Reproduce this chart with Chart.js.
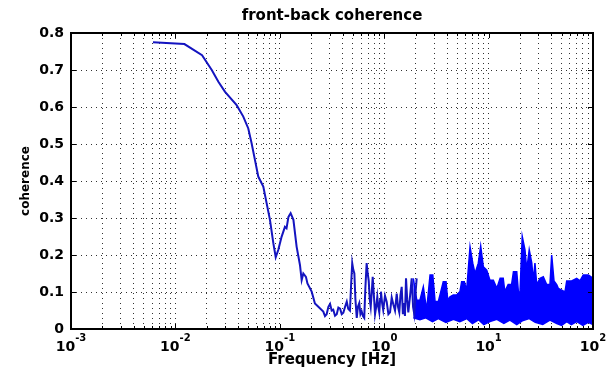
<!DOCTYPE html>
<html>
<head>
<meta charset="utf-8">
<title>front-back coherence</title>
<script src="https://cdn.jsdelivr.net/npm/chart.js@4.4.1/dist/chart.umd.min.js"></script>
<style>
  body { margin: 0; background: #fff; }
  #wrap { width: 611px; height: 370px; position: relative; }
</style>
</head>
<body>
<div id="wrap"><canvas id="coh"></canvas></div>
<script>
// frequency axis decades (10^n) and coherence ticks
const xDecades = [-3, -2, -1, 0, 1, 2];
const yTicks = [0, 0.1, 0.2, 0.3, 0.4, 0.5, 0.6, 0.7, 0.8];
const yTickLabels = ["0", "0.1", "0.2", "0.3", "0.4", "0.5", "0.6", "0.7", "0.8"];

// low and mid frequency part of the curve [Hz]
const lineFreq = [0.0061, 0.0122, 0.0180, 0.0223, 0.0258, 0.0299, 0.0386, 0.0447, 0.0499, 0.0537,
  0.0578, 0.0622, 0.0695, 0.0805, 0.0867, 0.0914, 0.0968, 0.104, 0.112, 0.116,
  0.121, 0.127, 0.135, 0.145, 0.156, 0.162, 0.168, 0.178, 0.184, 0.202,
  0.217, 0.234, 0.261, 0.271, 0.281, 0.292, 0.303, 0.314, 0.325, 0.338,
  0.351, 0.364, 0.378, 0.392, 0.406, 0.422, 0.438, 0.452, 0.470, 0.482,
  0.494, 0.506, 0.518, 0.530, 0.546, 0.560, 0.577, 0.592, 0.608, 0.626,
  0.644, 0.660, 0.679, 0.695, 0.711, 0.727, 0.743, 0.760, 0.776, 0.797,
  0.817, 0.838, 0.859, 0.878, 0.897, 0.914, 0.931, 0.955, 0.979, 1.018,
  1.056, 1.097, 1.137, 1.180, 1.222, 1.270, 1.318, 1.356, 1.395, 1.430,
  1.471, 1.510, 1.548, 1.580, 1.618, 1.660, 1.702, 1.770, 1.834, 1.890,
  1.942, 2.000, 2.047];
const lineCoh = [0.775, 0.770, 0.740, 0.700, 0.668, 0.641, 0.605, 0.574, 0.542, 0.502,
  0.457, 0.412, 0.385, 0.295, 0.232, 0.194, 0.214, 0.249, 0.276, 0.272,
  0.303, 0.313, 0.295, 0.222, 0.173, 0.132, 0.150, 0.141, 0.123, 0.101,
  0.069, 0.060, 0.047, 0.035, 0.040, 0.060, 0.068, 0.050, 0.052, 0.036,
  0.040, 0.058, 0.055, 0.040, 0.044, 0.060, 0.074, 0.055, 0.050, 0.120,
  0.178, 0.160, 0.150, 0.080, 0.030, 0.060, 0.070, 0.040, 0.048, 0.035,
  0.030, 0.110, 0.178, 0.150, 0.130, 0.080, 0.060, 0.100, 0.141, 0.090,
  0.040, 0.060, 0.087, 0.060, 0.045, 0.080, 0.101, 0.070, 0.051, 0.090,
  0.074, 0.040, 0.045, 0.085, 0.067, 0.050, 0.096, 0.060, 0.045, 0.090,
  0.114, 0.040, 0.070, 0.035, 0.137, 0.080, 0.045, 0.090, 0.137, 0.060,
  0.040, 0.100, 0.137];

// dense part above ~2 Hz: top of the band
const bandFreq = [1.90, 2.05, 2.20, 2.37, 2.55, 2.75, 2.92, 3.07, 3.30, 3.68,
  3.91, 4.06, 4.27, 4.59, 4.95, 5.32, 5.52, 5.85, 6.17, 6.64,
  7.05, 7.41, 7.97, 8.40, 8.90, 9.59, 10.3, 11.1, 12.0, 12.9,
  13.8, 14.3, 15.4, 16.6, 17.3, 18.6, 19.3, 20.0, 21.0, 22.3,
  23.2, 24.5, 25.9, 26.8, 27.8, 28.9, 31.1, 33.4, 36.0, 38.7,
  40.2, 42.3, 44.9, 46.5, 50.1, 53.9, 56.0, 62.5, 69.8, 75.0,
  80.7, 90.2, 97.1, 100];
const bandTop = [0.137, 0.078, 0.078, 0.114, 0.051, 0.146, 0.146, 0.074, 0.074, 0.128,
  0.128, 0.078, 0.087, 0.092, 0.092, 0.101, 0.128, 0.128, 0.105, 0.222,
  0.178, 0.150, 0.178, 0.224, 0.168, 0.159, 0.132, 0.132, 0.110, 0.137,
  0.137, 0.101, 0.120, 0.120, 0.155, 0.155, 0.100, 0.100, 0.250, 0.214,
  0.160, 0.214, 0.178, 0.130, 0.178, 0.120, 0.137, 0.141, 0.120, 0.120,
  0.200, 0.130, 0.120, 0.110, 0.105, 0.100, 0.130, 0.130, 0.137, 0.130,
  0.146, 0.146, 0.140, 0.135];

// bottom of the band
const floorFreq = [1.90, 2.20, 2.50, 2.90, 3.30, 3.90, 4.60, 5.30, 6.20, 7.00,
  8.00, 9.00, 10.3, 12.0, 14.0, 16.0, 18.6, 21.0, 24.5, 28.0,
  33.0, 38.7, 45.0, 50.0, 56.0, 62.0, 70.0, 80.0, 90.0, 100];
const bandBottom = [0.030, 0.025, 0.030, 0.020, 0.028, 0.018, 0.026, 0.020, 0.028, 0.015,
  0.025, 0.012, 0.020, 0.026, 0.015, 0.024, 0.012, 0.022, 0.028, 0.018,
  0.012, 0.024, 0.015, 0.010, 0.020, 0.012, 0.020, 0.010, 0.018, 0.012];

const xTickValues = [];
xDecades.forEach((n, i) => {
  if (i == xDecades.length - 1) { xTickValues.push(Math.pow(10, n)); return; }
  for (let m = 1; m <= 9; m++) xTickValues.push(m * Math.pow(10, n));
});

const pts = (xs, ys) => xs.map((x, i) => ({ x: x, y: ys[i] }));

const FONT = "'DejaVu Sans'";

// box, inward ticks and 10^n labels like the matlab axes
const matlabAxes = {
  id: "matlabAxes",
  afterDraw(chart) {
    const ctx = chart.ctx;
    const a = chart.chartArea;
    const xs = chart.scales.x;
    const ys = chart.scales.y;
    ctx.save();
    ctx.strokeStyle = "#000";
    ctx.lineWidth = 1;
    ctx.beginPath();
    xTickValues.forEach(v => {
      const px = Math.round(xs.getPixelForValue(v)) + 0.5;
      const major = Math.abs(Math.log10(v) - Math.round(Math.log10(v))) < 1e-6;
      const len = major ? 5 : 3;
      ctx.moveTo(px, a.bottom); ctx.lineTo(px, a.bottom - len);
      ctx.moveTo(px, a.top); ctx.lineTo(px, a.top + len);
    });
    yTicks.forEach(v => {
      const py = Math.round(ys.getPixelForValue(v)) + 0.5;
      ctx.moveTo(a.left, py); ctx.lineTo(a.left + 5, py);
      ctx.moveTo(a.right, py); ctx.lineTo(a.right - 5, py);
    });
    ctx.stroke();

    ctx.lineWidth = 2;
    ctx.strokeRect(a.left, a.top, a.right - a.left, a.bottom - a.top);

    ctx.fillStyle = "#000";
    ctx.textAlign = "left";
    ctx.textBaseline = "alphabetic";
    xDecades.forEach(n => {
      const px = xs.getPixelForValue(Math.pow(10, n));
      ctx.font = "bold 14px " + FONT;
      const wb = ctx.measureText("10").width;
      ctx.font = "bold 10px " + FONT;
      const we = ctx.measureText(String(n)).width;
      const x0 = px - (wb + we) / 2;
      ctx.font = "bold 14px " + FONT;
      ctx.fillText("10", x0, 351);
      ctx.font = "bold 10px " + FONT;
      ctx.fillText(String(n), x0 + wb, 341);
    });
    ctx.restore();
  }
};

new Chart(document.getElementById("coh"), {
  type: "line",
  data: {
    datasets: [
      {
        data: pts(lineFreq, lineCoh),
        borderColor: "#1414c0",
        borderWidth: 2,
        pointRadius: 0,
        tension: 0,
        fill: false
      },
      {
        data: pts(bandFreq, bandTop),
        borderColor: "#0000ff",
        backgroundColor: "#0000ff",
        borderWidth: 1.5,
        pointRadius: 0,
        tension: 0,
        fill: "+1"
      },
      {
        data: pts(floorFreq, bandBottom),
        borderColor: "#0000ff",
        borderWidth: 1.5,
        pointRadius: 0,
        tension: 0,
        fill: false
      }
    ]
  },
  options: {
    responsive: true,
    maintainAspectRatio: false,
    animation: false,
    events: [],
    layout: { padding: { left: 0, right: 18, top: 0, bottom: 0 } },
    plugins: {
      legend: { display: false },
      tooltip: { enabled: false },
      title: {
        display: true,
        text: "front-back coherence",
        fullSize: false,
        color: "#000",
        font: { family: FONT, size: 15, weight: "bold" },
        padding: { top: 7, bottom: 8 }
      }
    },
    scales: {
      x: {
        type: "logarithmic",
        min: 0.001,
        max: 100,
        afterBuildTicks: s => { s.ticks = xTickValues.map(v => ({ value: v })); },
        afterFit: s => { s.height = 41; },
        ticks: { display: false, autoSkip: false },
        grid: { color: "#333", lineWidth: 1, drawTicks: false },
        border: { display: false, dash: [1, 4] },
        title: {
          display: true,
          text: "Frequency [Hz]",
          color: "#000",
          font: { family: FONT, size: 15, weight: "bold" },
          padding: { top: 0, bottom: 1 }
        }
      },
      y: {
        min: 0,
        max: 0.8,
        afterBuildTicks: s => { s.ticks = yTicks.map(v => ({ value: v })); },
        afterFit: s => { s.width = 71; },
        ticks: {
          color: "#000",
          padding: 7,
          font: { family: FONT, size: 14, weight: "bold" },
          callback: (v, i) => yTickLabels[i]
        },
        grid: { color: "#333", lineWidth: 1, drawTicks: false },
        border: { display: false, dash: [1, 4] },
        title: {
          display: true,
          text: "coherence",
          color: "#000",
          font: { family: FONT, size: 12, weight: "bold" },
          padding: { top: 19, bottom: 0 }
        }
      }
    }
  },
  plugins: [matlabAxes]
});
</script>
</body>
</html>
